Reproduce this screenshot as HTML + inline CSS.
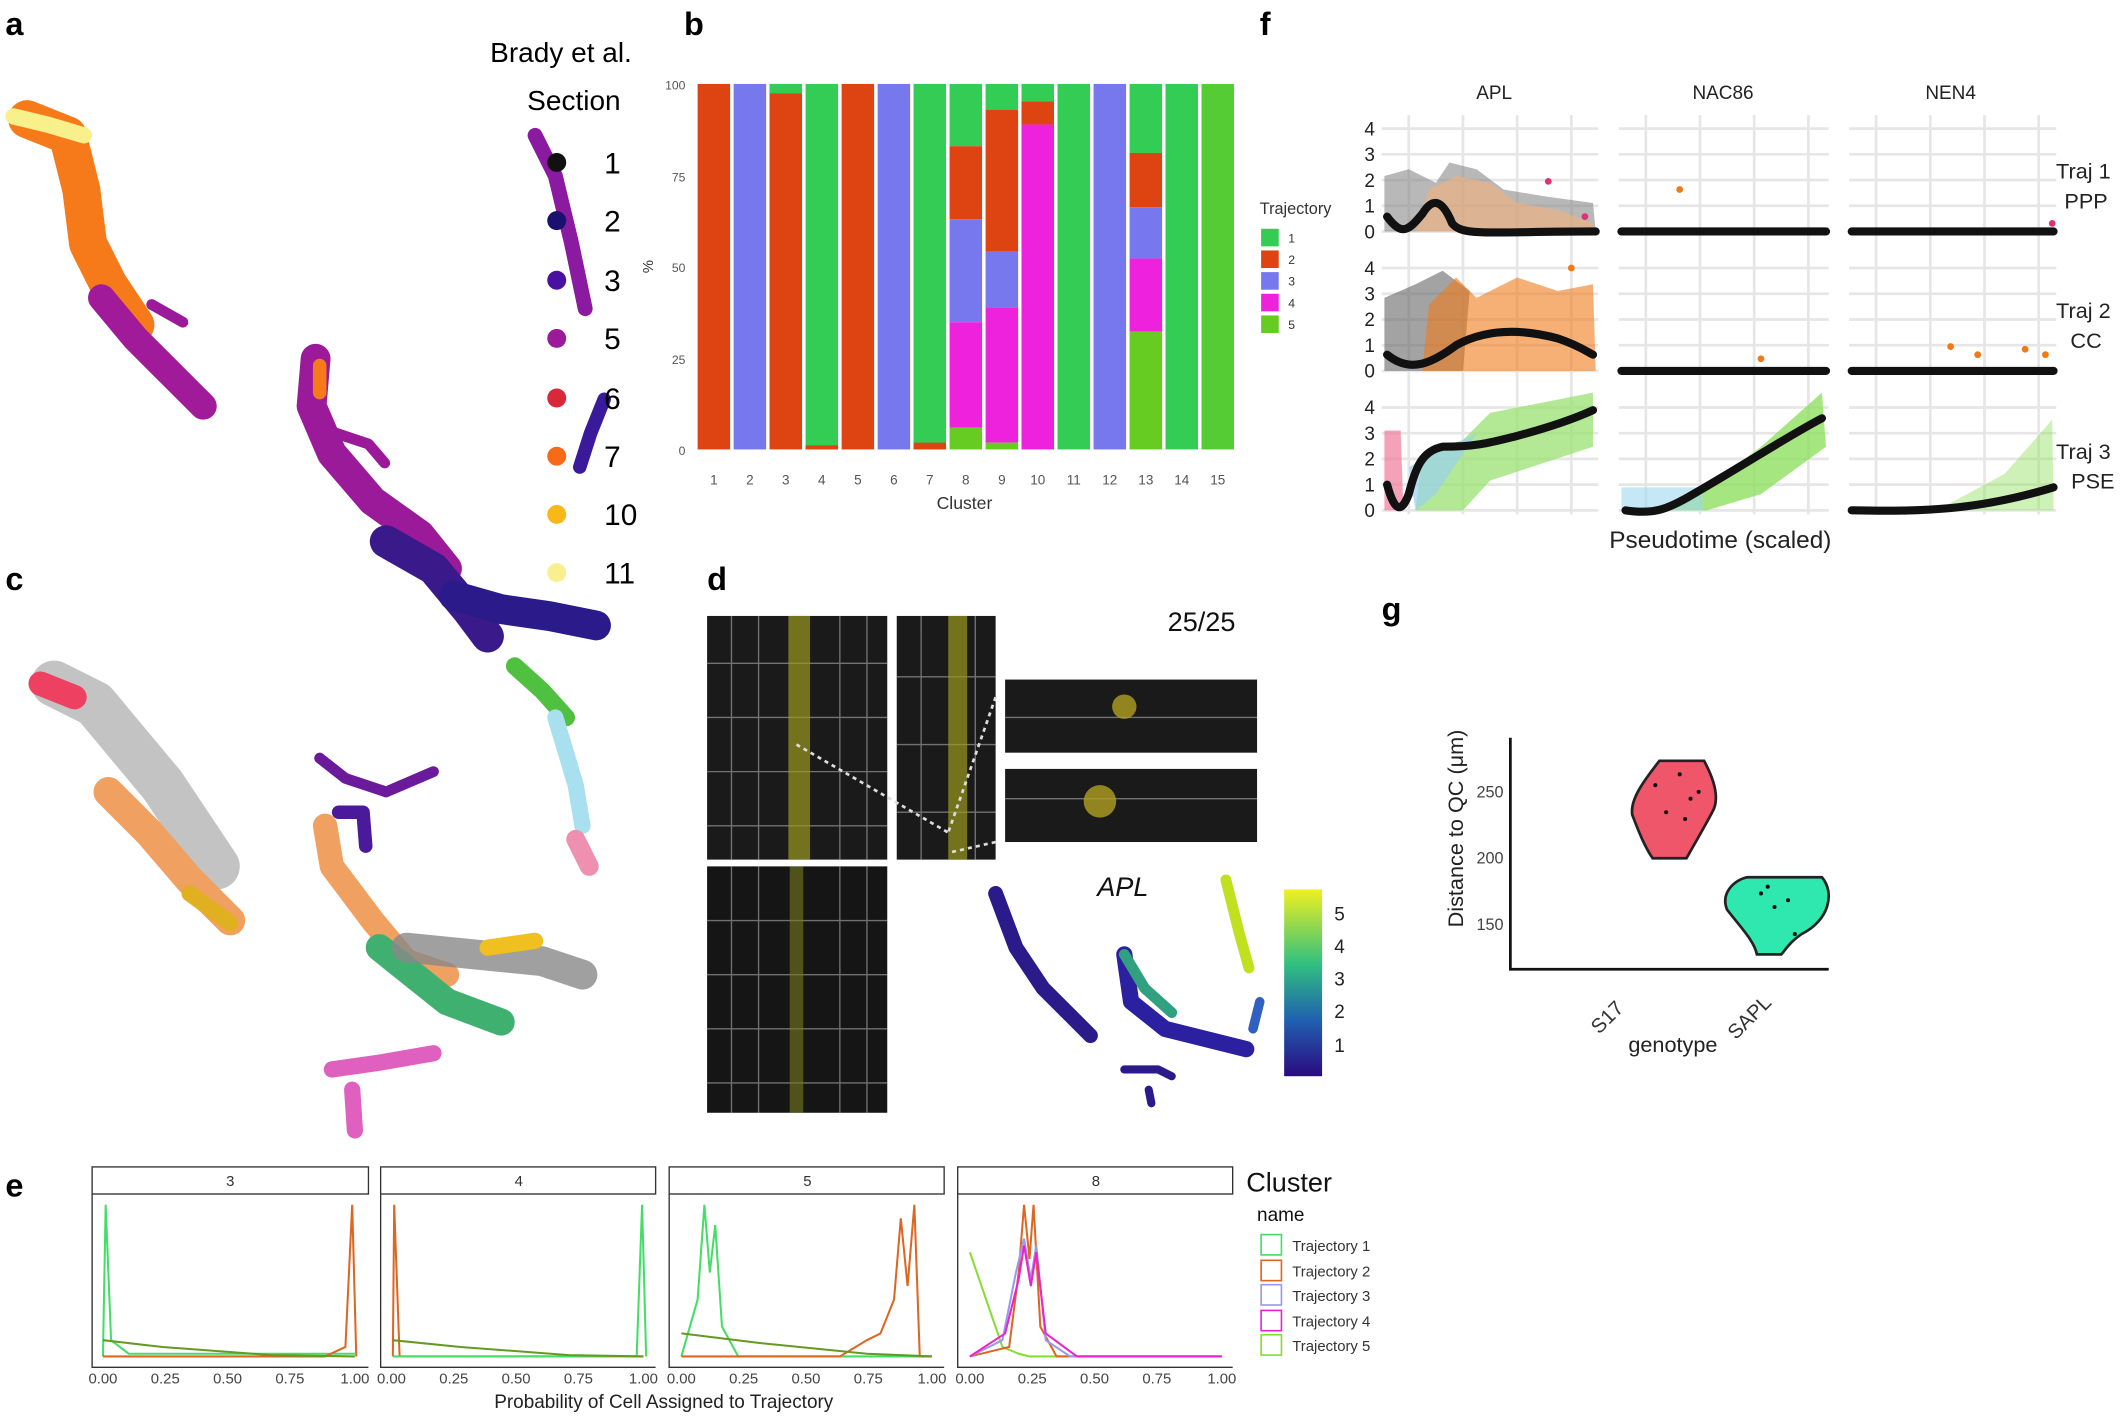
<!DOCTYPE html>
<html><head><meta charset="utf-8"><style>
html,body{margin:0;padding:0;background:#fff}
svg{display:block}
text{font-family:"Liberation Sans",sans-serif}
</style></head><body>
<svg width="2124" height="1416" viewBox="0 0 1568 1046" preserveAspectRatio="none" xmlns="http://www.w3.org/2000/svg">
<rect width="1568" height="1046" fill="#fff"/>
<g font-weight="bold" font-size="24" fill="#000">
<text x="4" y="26">a</text><text x="505" y="26">b</text><text x="930" y="26">f</text>
<text x="4" y="436">c</text><text x="522" y="436">d</text><text x="1020" y="458">g</text><text x="4" y="884">e</text>
</g>
<!-- Panel a -->
<g fill="none" stroke-linecap="round" stroke-linejoin="round">
<polyline points="20,88 50,100 60,140 65,180 80,210 100,240" stroke="#f77a1a" stroke-width="28"/>
<polyline points="75,220 100,250 120,270 140,290 150,300" stroke="#a01a9a" stroke-width="20"/>
<polyline points="10,86 35,92 62,100" stroke="#f8f08a" stroke-width="12"/>
<polyline points="112,225 135,238" stroke="#9a1a9a" stroke-width="8"/>
<polyline points="233,265 230,300 245,335 275,370 310,395 330,420" stroke="#9a1a9a" stroke-width="22"/>
<polyline points="285,400 320,420 345,450 360,470" stroke="#3a1a8a" stroke-width="24"/>
<polyline points="335,440 370,450 405,455 440,462" stroke="#2a1a8a" stroke-width="22"/>
<polyline points="236,270 236,290" stroke="#f77a1a" stroke-width="10"/>
<polyline points="248,320 272,328 284,342" stroke="#9a1a9a" stroke-width="8"/>
<polyline points="395,100 410,130 422,180 432,228" stroke="#8a1aa0" stroke-width="11"/>
<polyline points="446,295 436,320 428,345" stroke="#3a1a9a" stroke-width="10"/>
<polyline points="236,560 255,575 285,585 320,570" stroke="#6a1a9a" stroke-width="8"/>
<polyline points="250,600 268,600 270,625" stroke="#4a1a9a" stroke-width="10"/>
</g>
<g transform="scale(0.7385,0.7385)">
<text x="490" y="62" font-size="28">Brady et al.</text>
<text x="527" y="110" font-size="28">Section</text>
</g>
<g font-size="22">
<circle cx="411" cy="120" r="7" fill="#111"/><text x="446" y="128">1</text>
<circle cx="411" cy="163" r="7" fill="#1a1070"/><text x="446" y="171">2</text>
<circle cx="411" cy="207" r="7" fill="#4a10a0"/><text x="446" y="215">3</text>
<circle cx="411" cy="250" r="7" fill="#9a1a9a"/><text x="446" y="258">5</text>
<circle cx="411" cy="294" r="7" fill="#d8283a"/><text x="446" y="302">6</text>
<circle cx="411" cy="337" r="7" fill="#f86a18"/><text x="446" y="345">7</text>
<circle cx="411" cy="380" r="7" fill="#f8b818"/><text x="446" y="388">10</text>
<circle cx="411" cy="423" r="7" fill="#f8f090"/><text x="446" y="431">11</text>
</g>
<!-- Panel b -->
<g>
<rect x="515" y="62" width="24" height="270" fill="#dd4411"/>
<rect x="541.6" y="62" width="24" height="270" fill="#7777ee"/>
<rect x="568.1" y="62" width="24" height="270" fill="#dd4411"/><rect x="568.1" y="62" width="24" height="7" fill="#33cc55"/>
<rect x="594.7" y="62" width="24" height="270" fill="#33cc55"/><rect x="594.7" y="329" width="24" height="3" fill="#dd4411"/>
<rect x="621.3" y="62" width="24" height="270" fill="#dd4411"/>
<rect x="647.9" y="62" width="24" height="270" fill="#7777ee"/>
<rect x="674.4" y="62" width="24" height="270" fill="#33cc55"/><rect x="674.4" y="327" width="24" height="5" fill="#dd4411"/>
<rect x="701" y="62" width="24" height="46" fill="#33cc55"/><rect x="701" y="108" width="24" height="54" fill="#dd4411"/><rect x="701" y="162" width="24" height="76" fill="#7777ee"/><rect x="701" y="238" width="24" height="78" fill="#ee22dd"/><rect x="701" y="316" width="24" height="16" fill="#66cc22"/>
<rect x="727.6" y="62" width="24" height="19" fill="#33cc55"/><rect x="727.6" y="81" width="24" height="105" fill="#dd4411"/><rect x="727.6" y="186" width="24" height="41" fill="#7777ee"/><rect x="727.6" y="227" width="24" height="100" fill="#ee22dd"/><rect x="727.6" y="327" width="24" height="5" fill="#66cc22"/>
<rect x="754.1" y="62" width="24" height="13" fill="#33cc55"/><rect x="754.1" y="75" width="24" height="17" fill="#dd4411"/><rect x="754.1" y="92" width="24" height="240" fill="#ee22dd"/>
<rect x="780.7" y="62" width="24" height="270" fill="#33cc55"/>
<rect x="807.3" y="62" width="24" height="270" fill="#7777ee"/>
<rect x="833.9" y="62" width="24" height="51" fill="#33cc55"/><rect x="833.9" y="113" width="24" height="40" fill="#dd4411"/><rect x="833.9" y="153" width="24" height="38" fill="#7777ee"/><rect x="833.9" y="191" width="24" height="54" fill="#ee22dd"/><rect x="833.9" y="245" width="24" height="87" fill="#66cc22"/>
<rect x="860.4" y="62" width="24" height="270" fill="#33cc55"/>
<rect x="887" y="62" width="24" height="270" fill="#55cc33"/>
</g>
<g font-size="9" fill="#555" text-anchor="end">
<text x="506" y="66">100</text><text x="506" y="134">75</text><text x="506" y="201">50</text><text x="506" y="269">25</text><text x="506" y="336">0</text>
</g>
<text x="482" y="197" font-size="11" fill="#333" transform="rotate(-90 482 197)" text-anchor="middle">%</text>
<g font-size="10" fill="#555" text-anchor="middle">
<text x="527" y="358">1</text><text x="553.6" y="358">2</text><text x="580.1" y="358">3</text><text x="606.7" y="358">4</text><text x="633.3" y="358">5</text><text x="659.9" y="358">6</text><text x="686.4" y="358">7</text><text x="713" y="358">8</text><text x="739.6" y="358">9</text><text x="766.1" y="358">10</text><text x="792.7" y="358">11</text><text x="819.3" y="358">12</text><text x="845.9" y="358">13</text><text x="872.4" y="358">14</text><text x="899" y="358">15</text>
</g>
<text x="712" y="376" font-size="13" fill="#333" text-anchor="middle">Cluster</text>
<text x="930" y="158" font-size="12" fill="#333">Trajectory</text>
<g font-size="9" fill="#333">
<rect x="931" y="169" width="13" height="13" fill="#33cc55"/><text x="951" y="179">1</text>
<rect x="931" y="185" width="13" height="13" fill="#dd4411"/><text x="951" y="195">2</text>
<rect x="931" y="201" width="13" height="13" fill="#7777ee"/><text x="951" y="211">3</text>
<rect x="931" y="217" width="13" height="13" fill="#ee22dd"/><text x="951" y="227">4</text>
<rect x="931" y="233" width="13" height="13" fill="#66cc22"/><text x="951" y="243">5</text>
</g>
<!-- Panel f -->
<g font-size="14" fill="#222" text-anchor="middle">
<text x="1103" y="73">APL</text><text x="1272" y="73">NAC86</text><text x="1440" y="73">NEN4</text>
</g>
<g stroke="#e6e6e6" stroke-width="2" fill="none">
<path d="M1020 95H1180M1020 114H1180M1020 133H1180M1020 152H1180M1020 171H1180M1195 95H1350M1195 114H1350M1195 133H1350M1195 152H1350M1195 171H1350M1365 95H1518M1365 114H1518M1365 133H1518M1365 152H1518M1365 171H1518"/>
<path d="M1020 198H1180M1020 217H1180M1020 236H1180M1020 255H1180M1020 274H1180M1195 198H1350M1195 217H1350M1195 236H1350M1195 255H1350M1195 274H1350M1365 198H1518M1365 217H1518M1365 236H1518M1365 255H1518M1365 274H1518"/>
<path d="M1020 301H1180M1020 320H1180M1020 339H1180M1020 358H1180M1020 377H1180M1195 301H1350M1195 320H1350M1195 339H1350M1195 358H1350M1195 377H1350M1365 301H1518M1365 320H1518M1365 339H1518M1365 358H1518M1365 377H1518"/>
<path d="M1040 85V380M1080 85V380M1120 85V380M1160 85V380M1215 85V380M1255 85V380M1295 85V380M1335 85V380M1385 85V380M1425 85V380M1465 85V380M1505 85V380"/>
</g>
<g font-size="14" fill="#222" text-anchor="end">
<text x="1015" y="100">4</text><text x="1015" y="119">3</text><text x="1015" y="138">2</text><text x="1015" y="157">1</text><text x="1015" y="176">0</text>
<text x="1015" y="203">4</text><text x="1015" y="222">3</text><text x="1015" y="241">2</text><text x="1015" y="260">1</text><text x="1015" y="279">0</text>
<text x="1015" y="306">4</text><text x="1015" y="325">3</text><text x="1015" y="344">2</text><text x="1015" y="363">1</text><text x="1015" y="382">0</text>
</g>
<polygon points="1022,171 1022,130 1040,125 1060,135 1070,120 1090,125 1110,140 1140,145 1176,150 1178,171" fill="#888" opacity="0.6"/>
<polygon points="1045,171 1055,140 1075,130 1100,135 1120,150 1150,155 1176,165 1176,171" fill="#f4b07a" opacity="0.6"/>
<polygon points="1022,274 1022,220 1045,210 1065,200 1085,215 1080,274" fill="#666" opacity="0.6"/>
<polygon points="1050,274 1055,225 1075,205 1090,220 1120,205 1150,215 1176,210 1178,274" fill="#f07a18" opacity="0.6"/>
<polygon points="1022,377 1022,318 1034,318 1036,377" fill="#f07a9a" opacity="0.7"/>
<polygon points="1045,377 1050,335 1080,325 1100,305 1176,290 1176,330 1100,355 1080,377" fill="#9ae070" opacity="0.75"/>
<polygon points="1040,345 1070,330 1090,320 1060,365 1045,377" fill="#9ad0f0" opacity="0.7"/>
<polygon points="1230,377 1260,360 1300,330 1345,290 1348,330 1300,365 1260,377" fill="#90e060" opacity="0.8"/>
<rect x="1197" y="360" width="60" height="17" fill="#a0d8f0" opacity="0.6"/>
<polygon points="1430,377 1480,350 1515,310 1516,377" fill="#90e060" opacity="0.45"/>
<g fill="#f07a18"><circle cx="1440" cy="256" r="2.5"/><circle cx="1460" cy="262" r="2.5"/><circle cx="1495" cy="258" r="2.5"/><circle cx="1510" cy="262" r="2.5"/><circle cx="1300" cy="265" r="2.5"/><circle cx="1240" cy="140" r="2.5"/><circle cx="1160" cy="198" r="2.5"/></g>
<g fill="#e0307a"><circle cx="1170" cy="160" r="2.5"/><circle cx="1515" cy="165" r="2.5"/><circle cx="1143" cy="134" r="2.5"/></g>
<g fill="none" stroke="#111" stroke-width="6" stroke-linecap="round">
<path d="M1024 160C1035 175 1040 170 1050 158C1058 145 1065 148 1072 165C1080 175 1100 171 1178 171"/>
<path d="M1197 171H1348M1367 171H1516M1197 274H1348M1367 274H1516"/>
<path d="M1024 262C1040 275 1055 270 1075 255C1095 244 1120 242 1150 250C1165 255 1172 260 1176 262"/>
<path d="M1024 358C1030 380 1035 378 1040 365C1045 345 1050 333 1065 330C1090 330 1100 327 1120 322C1150 314 1165 308 1176 303"/>
<path d="M1200 377C1220 380 1230 377 1250 365C1290 342 1320 322 1345 309"/>
<path d="M1367 377C1420 378 1460 377 1516 360"/>
</g>
<g font-size="16" fill="#222" text-anchor="middle">
<text x="1538" y="132">Traj 1</text><text x="1540" y="154">PPP</text>
<text x="1538" y="235">Traj 2</text><text x="1540" y="257">CC</text>
<text x="1538" y="339">Traj 3</text><text x="1545" y="361">PSE</text>
</g>
<text x="1270" y="405" font-size="18" fill="#222" text-anchor="middle">Pseudotime (scaled)</text>
<!-- Panel c -->
<g fill="none" stroke-linecap="round" stroke-linejoin="round">
<polyline points="40,505 70,520 95,550 120,580 140,610 160,640" stroke="#aaa" stroke-width="34" opacity="0.7"/>
<polyline points="30,505 55,515" stroke="#ee4060" stroke-width="18"/>
<polyline points="80,585 110,615 140,650 170,680" stroke="#f0a060" stroke-width="22"/>
<polyline points="140,660 170,682" stroke="#e0b020" stroke-width="12"/>
<polyline points="240,610 245,640 275,680 300,710 330,720" stroke="#f0a060" stroke-width="18"/>
<polyline points="280,700 330,740 370,755" stroke="#40b070" stroke-width="20"/>
<polyline points="300,700 350,705 400,710 430,720" stroke="#888" stroke-width="22" opacity="0.8"/>
<polyline points="360,700 395,695" stroke="#f0c020" stroke-width="12"/>
<polyline points="380,492 400,510 418,530" stroke="#50c040" stroke-width="13"/>
<polyline points="410,530 425,580 430,610" stroke="#a8e0f0" stroke-width="12"/>
<polyline points="425,620 435,640" stroke="#f090b0" stroke-width="14"/>
<polyline points="245,790 280,785 320,778" stroke="#e060c0" stroke-width="12"/>
<polyline points="260,805 262,835" stroke="#e060c0" stroke-width="12"/>
</g>
<!-- Panel d -->
<rect x="522" y="455" width="133" height="180" fill="#1a1a1a"/>
<rect x="662" y="455" width="73" height="180" fill="#1a1a1a"/>
<rect x="522" y="640" width="133" height="182" fill="#151515"/>
<rect x="742" y="502" width="186" height="54" fill="#1a1a1a"/>
<rect x="742" y="568" width="186" height="54" fill="#1a1a1a"/>
<g stroke="#bbb" stroke-width="1" opacity="0.55" fill="none">
<path d="M540 455V635M560 455V635M620 455V635M640 455V635M680 455V635M720 455V635M540 640V822M560 640V822M620 640V822M640 640V822"/>
<path d="M522 490H655M522 530H655M522 570H655M522 610H655M522 680H655M522 720H655M522 760H655M522 800H655M662 500H735M662 550H735M662 600H735M742 530H928M742 590H928"/>
</g>
<rect x="582" y="455" width="16" height="180" fill="#9a9a20" opacity="0.7"/>
<rect x="700" y="455" width="14" height="180" fill="#9a9a20" opacity="0.7"/>
<rect x="583" y="640" width="10" height="182" fill="#7a7a20" opacity="0.6"/>
<circle cx="830" cy="522" r="9" fill="#b0a020" opacity="0.8"/>
<circle cx="812" cy="592" r="12" fill="#b0a020" opacity="0.8"/>
<path d="M588 550L700 615M735 515L700 615M735 622L700 630" stroke="#ddd" stroke-width="2" stroke-dasharray="3,3"/>
<text x="862" y="466" font-size="20" fill="#111">25/25</text>
<text x="810" y="662" font-size="20" font-style="italic" fill="#111">APL</text>
<g fill="none" stroke-linecap="round" stroke-linejoin="round">
<polyline points="735,660 750,700 770,730 790,750 805,765" stroke="#2a1a8a" stroke-width="11"/>
<polyline points="830,705 835,740 860,760 900,770 920,775" stroke="#2a20a0" stroke-width="12"/>
<polyline points="830,705 845,730 865,748" stroke="#30a080" stroke-width="8"/>
<polyline points="905,650 915,690 922,715" stroke="#c0e020" stroke-width="8"/>
<polyline points="930,740 925,760" stroke="#3060c0" stroke-width="7"/>
<polyline points="830,790 855,790 865,795" stroke="#2a1a8a" stroke-width="6"/>
<polyline points="848,805 850,815" stroke="#2a1a8a" stroke-width="6"/>
</g>
<defs><linearGradient id="vir" x1="0" y1="1" x2="0" y2="0"><stop offset="0" stop-color="#2a0a80"/><stop offset="0.3" stop-color="#2060b0"/><stop offset="0.6" stop-color="#30c080"/><stop offset="1" stop-color="#f0f020"/></linearGradient></defs>
<rect x="948" y="657" width="28" height="138" fill="url(#vir)"/>
<g font-size="14" fill="#222"><text x="985" y="680">5</text><text x="985" y="704">4</text><text x="985" y="728">3</text><text x="985" y="752">2</text><text x="985" y="777">1</text></g>
<!-- Panel g -->
<path d="M1115 545V716H1350" stroke="#111" stroke-width="2" fill="none"/>
<g font-size="12" fill="#444" text-anchor="end"><text x="1110" y="589">250</text><text x="1110" y="638">200</text><text x="1110" y="687">150</text></g>
<text x="1080" y="612" font-size="16" fill="#222" text-anchor="middle" transform="rotate(-90 1080 612)">Distance to QC (μm)</text>
<path d="M1225 562H1258C1265 575 1270 590 1264 600C1256 615 1250 625 1245 634H1220C1214 625 1210 615 1205 602C1203 590 1215 575 1225 562Z" fill="#f0566a" stroke="#222" stroke-width="2"/>
<path d="M1290 648H1345C1355 660 1350 680 1330 690C1320 697 1318 702 1315 705H1297C1295 695 1285 685 1275 672C1270 660 1280 650 1290 648Z" fill="#2ee8b0" stroke="#222" stroke-width="2"/>
<g fill="#111"><circle cx="1222" cy="580" r="1.5"/><circle cx="1240" cy="572" r="1.5"/><circle cx="1248" cy="590" r="1.5"/><circle cx="1230" cy="600" r="1.5"/><circle cx="1244" cy="605" r="1.5"/><circle cx="1254" cy="585" r="1.5"/><circle cx="1300" cy="660" r="1.5"/><circle cx="1310" cy="670" r="1.5"/><circle cx="1320" cy="665" r="1.5"/><circle cx="1325" cy="690" r="1.5"/><circle cx="1305" cy="655" r="1.5"/></g>
<text x="1190" y="755" font-size="15" fill="#333" transform="rotate(-45 1190 755)" text-anchor="middle">S17</text>
<text x="1295" y="755" font-size="15" fill="#333" transform="rotate(-45 1295 755)" text-anchor="middle">SAPL</text>
<text x="1235" y="777" font-size="16" fill="#222" text-anchor="middle">genotype</text>
<!-- Panel e -->
<g fill="#fff" stroke="#333" stroke-width="1">
<rect x="68" y="862" width="204" height="20"/><rect x="281" y="862" width="203" height="20"/><rect x="494" y="862" width="203" height="20"/><rect x="707" y="862" width="203" height="20"/>
</g>
<g font-size="11" fill="#333" text-anchor="middle"><text x="170" y="876">3</text><text x="383" y="876">4</text><text x="596" y="876">5</text><text x="809" y="876">8</text></g>
<g stroke="#333" stroke-width="1" fill="none"><path d="M68 882V1010H272M281 882V1010H484M494 882V1010H697M707 882V1010H910"/></g>
<g font-size="11" fill="#444" text-anchor="middle">
<text x="76" y="1022">0.00</text><text x="122" y="1022">0.25</text><text x="168" y="1022">0.50</text><text x="214" y="1022">0.75</text><text x="262" y="1022">1.00</text>
<text x="289" y="1022">0.00</text><text x="335" y="1022">0.25</text><text x="381" y="1022">0.50</text><text x="427" y="1022">0.75</text><text x="475" y="1022">1.00</text>
<text x="503" y="1022">0.00</text><text x="549" y="1022">0.25</text><text x="595" y="1022">0.50</text><text x="641" y="1022">0.75</text><text x="688" y="1022">1.00</text>
<text x="716" y="1022">0.00</text><text x="762" y="1022">0.25</text><text x="808" y="1022">0.50</text><text x="854" y="1022">0.75</text><text x="902" y="1022">1.00</text>
</g>
<text x="490" y="1040" font-size="14" fill="#222" text-anchor="middle">Probability of Cell Assigned to Trajectory</text>
<g fill="none" stroke-width="1.5">
<path d="M76 1002L78 890L82 990L95 1000H262" stroke="#44dd66"/>
<path d="M76 1002H240L255 995L260 890L263 1002" stroke="#dd6622"/>
<path d="M76 990L120 995L200 1001L262 1002" stroke="#669922"/>
<path d="M290 1002L291 890L295 1002H475" stroke="#dd6622"/>
<path d="M290 1002H470L474 890L477 1002" stroke="#44dd66"/>
<path d="M290 990L340 995L420 1001L475 1002" stroke="#669922"/>
<path d="M503 1002L515 960L520 890L524 940L528 905L533 980L545 1002H688" stroke="#44dd66"/>
<path d="M503 1002H620L640 990L650 985L660 960L665 900L670 950L675 890L679 1002H688" stroke="#dd6622"/>
<path d="M503 985L560 992L640 1000L688 1002" stroke="#669922"/>
<path d="M716 925L740 995L752 1000L760 1002H902" stroke="#88dd33"/>
<path d="M716 1002L745 995L752 940L756 890L760 930L763 890L768 980L780 1002H902" stroke="#dd6622"/>
<path d="M716 1002L740 990L750 940L756 915L761 945L765 920L772 990L790 1002H902" stroke="#9999ee"/>
<path d="M716 1002L742 985L752 945L756 920L761 950L765 925L772 985L795 1002H902" stroke="#ee22cc"/>
</g>
<text x="920" y="880" font-size="20" fill="#111">Cluster</text>
<text x="928" y="902" font-size="14" fill="#111">name</text>
<g font-size="11" fill="#333" stroke-width="1.2">
<rect x="931" y="912" width="15" height="15" fill="#fff" stroke="#44dd66"/><text x="954" y="924">Trajectory 1</text>
<rect x="931" y="931" width="15" height="15" fill="#fff" stroke="#dd6622"/><text x="954" y="943">Trajectory 2</text>
<rect x="931" y="949" width="15" height="15" fill="#fff" stroke="#9999ee"/><text x="954" y="961">Trajectory 3</text>
<rect x="931" y="968" width="15" height="15" fill="#fff" stroke="#ee22cc"/><text x="954" y="980">Trajectory 4</text>
<rect x="931" y="986" width="15" height="15" fill="#fff" stroke="#88dd33"/><text x="954" y="998">Trajectory 5</text>
</g>
</svg>
</body></html>
